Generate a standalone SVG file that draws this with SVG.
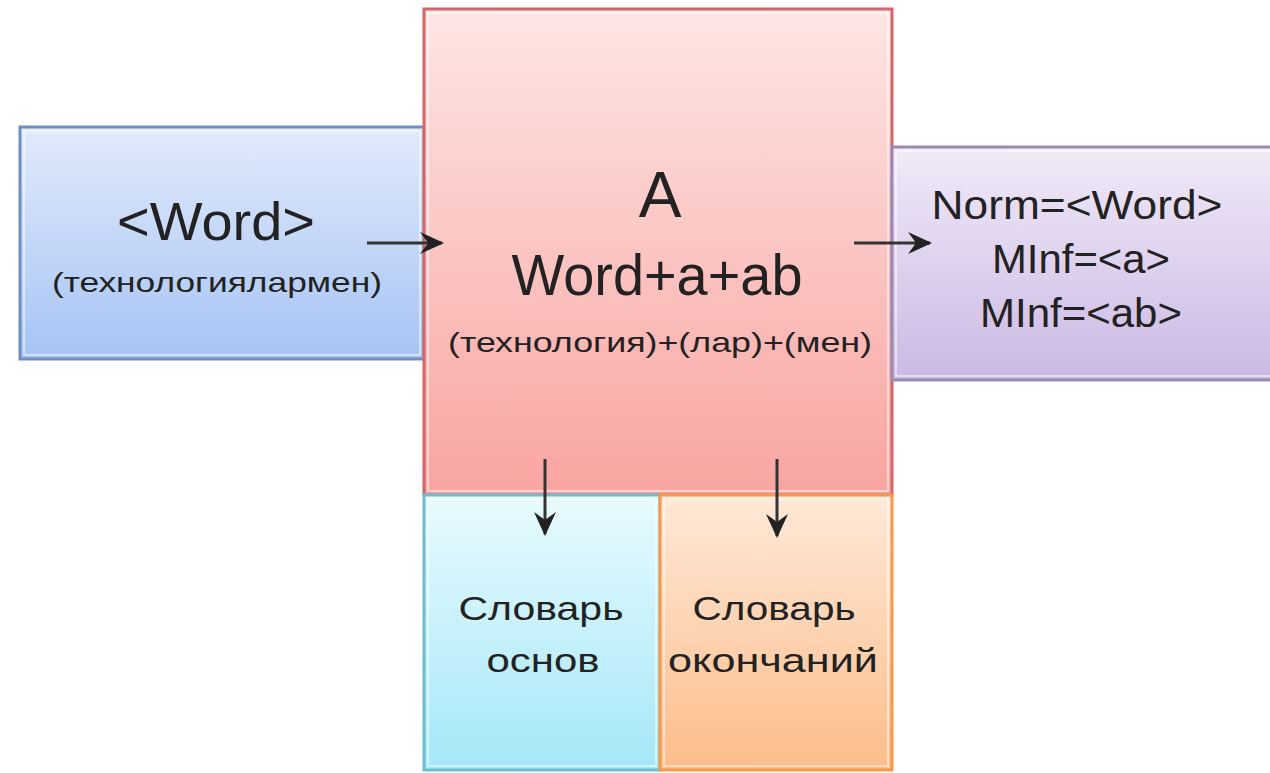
<svg xmlns="http://www.w3.org/2000/svg" width="1270" height="773" viewBox="0 0 1270 773">
<style>
.t{font-family:"Liberation Sans",Arial,sans-serif;fill:#222222;text-anchor:middle}
.box{stroke-width:3}
.inner{fill:none;stroke:#ffffff;stroke-opacity:0.5;stroke-width:2}
.conn{stroke:#333333;stroke-width:3;fill:none;marker-end:url(#ah)}
</style>
<defs>
<linearGradient id="gBlue" x1="0" y1="0" x2="0" y2="1"><stop offset="0" stop-color="#e2eafb"/><stop offset="1" stop-color="#a6c4f5"/></linearGradient>
<linearGradient id="gRed" x1="0" y1="0" x2="0" y2="1"><stop offset="0" stop-color="#fde6e4"/><stop offset="1" stop-color="#f9a4a1"/></linearGradient>
<linearGradient id="gPurple" x1="0" y1="0" x2="0" y2="1"><stop offset="0" stop-color="#f1eaf8"/><stop offset="1" stop-color="#cbb9e4"/></linearGradient>
<linearGradient id="gCyan" x1="0" y1="0" x2="0" y2="1"><stop offset="0" stop-color="#e8fbfe"/><stop offset="1" stop-color="#a5e7f8"/></linearGradient>
<linearGradient id="gOrange" x1="0" y1="0" x2="0" y2="1"><stop offset="0" stop-color="#ffe9d8"/><stop offset="1" stop-color="#fcbd8a"/></linearGradient>
<marker id="ah" viewBox="0 0 12 12" refX="11" refY="6" markerWidth="8" markerHeight="8" orient="auto" markerUnits="strokeWidth">
<path d="M0,0.5 L12,6 L0,11.5 L4,6 Z" fill="#222222"/>
</marker>
</defs>
<rect width="1270" height="773" fill="#ffffff"/>

<g id="node-word">
<rect class="box" x="20" y="127" width="404" height="232" fill="url(#gBlue)" stroke="#6f8fc4"/>
<rect class="inner" x="24" y="131" width="396" height="224"/>
<text class="t" x="216" y="240" font-size="53" textLength="198" lengthAdjust="spacingAndGlyphs">&lt;Word&gt;</text>
<text class="t" x="217" y="292" font-size="28" textLength="330" lengthAdjust="spacingAndGlyphs">(технологиялармен)</text>
</g>

<g id="node-A">
<rect class="box" x="424" y="9" width="468" height="486" fill="url(#gRed)" stroke="#d2666a"/>
<rect class="inner" x="428" y="13" width="460" height="478"/>
<text class="t" x="660" y="217" font-size="64">A</text>
<text class="t" x="657" y="295" font-size="57" textLength="291" lengthAdjust="spacingAndGlyphs">Word+a+ab</text>
<text class="t" x="660" y="352" font-size="28" textLength="424" lengthAdjust="spacingAndGlyphs">(технология)+(лар)+(мен)</text>
</g>

<g id="node-result">
<rect class="box" x="892" y="147" width="380" height="233" fill="url(#gPurple)" stroke="#9c8ab4"/>
<rect class="inner" x="896" y="151" width="376" height="225"/>
<text class="t" x="1077" y="219" font-size="40" textLength="291" lengthAdjust="spacingAndGlyphs">Norm=&lt;Word&gt;</text>
<text class="t" x="1081" y="273" font-size="40" textLength="178" lengthAdjust="spacingAndGlyphs">MInf=&lt;a&gt;</text>
<text class="t" x="1081" y="327" font-size="40" textLength="202" lengthAdjust="spacingAndGlyphs">MInf=&lt;ab&gt;</text>
</g>

<g id="node-stems">
<rect class="box" x="424" y="495" width="236" height="275" fill="url(#gCyan)" stroke="#6dbdcb"/>
<rect class="inner" x="428" y="499" width="228" height="267"/>
<text class="t" x="541" y="620" font-size="34" textLength="165" lengthAdjust="spacingAndGlyphs">Словарь</text>
<text class="t" x="543" y="672" font-size="34" textLength="113" lengthAdjust="spacingAndGlyphs">основ</text>
</g>

<g id="node-endings">
<rect class="box" x="660" y="495" width="232" height="275" fill="url(#gOrange)" stroke="#f7984c"/>
<rect class="inner" x="664" y="499" width="224" height="267"/>
<text class="t" x="774" y="620" font-size="34" textLength="163" lengthAdjust="spacingAndGlyphs">Словарь</text>
<text class="t" x="773" y="672" font-size="34" textLength="210" lengthAdjust="spacingAndGlyphs">окончаний</text>
</g>

<g id="connectors">
<line class="conn" x1="367" y1="243" x2="442" y2="243"/>
<line class="conn" x1="854" y1="243" x2="930" y2="243"/>
<line class="conn" x1="545" y1="459" x2="545" y2="534"/>
<line class="conn" x1="777" y1="459" x2="777" y2="536"/>
</g>
</svg>
